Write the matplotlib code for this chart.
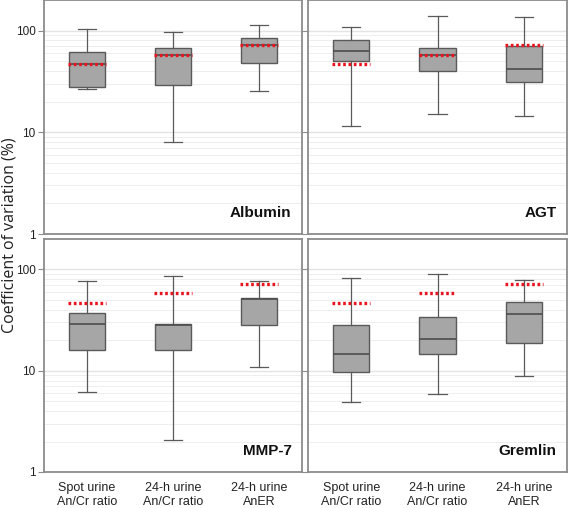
import matplotlib
matplotlib.use("Agg")
import matplotlib.pyplot as plt
import numpy as np
from matplotlib.ticker import LogLocator, NullFormatter, FixedLocator, FixedFormatter

plt.rcParams['font.family'] = ['Liberation Sans', 'DejaVu Sans']

methods = ["Spot urine\nAn/Cr ratio", "24-h urine\nAn/Cr ratio", "24-h urine\nAnER"]
markers = ["Albumin", "AGT", "MMP-7", "Gremlin"]

# per marker: [whislo, q1, median, q3, whishi] for each method
albumin = [[26.6, 28, 47, 61, 103], [8.05, 29, 58, 67.6, 98], [25.2, 48, 72, 85, 113]]
agt = [[11.5, 49.7, 63.7, 81, 108], [15, 40, 57, 66.7, 139], [14.5, 30.9, 41.8, 71, 135]]
mmp7 = [[6.15, 16.1, 29.1, 37.4, 77], [2.05, 16.1, 28.5, 28.9, 86], [10.8, 28.5, 51, 52.5, 76.7]]
gremlin = [[4.87, 9.8, 14.7, 28.4, 82], [5.9, 14.7, 20.8, 34.3, 90], [8.9, 18.6, 36.5, 47.6, 79]]
# red dotted reference values per method
ref_cv = [47, 58, 72]

data = [albumin, agt, mmp7, gremlin]

fig = plt.figure(figsize=(5.68, 5.08), dpi=100)
W, H = 568, 508
boxes_px = [(44, 0, 302, 234), (308, 0, 567, 234), (44, 239, 302, 472), (308, 239, 567, 472)]

frame_col = "#8c8c8c"
for i, (x0, y0, x1, y1) in enumerate(boxes_px):
    ax = fig.add_axes([x0 / W, 1 - y1 / H, (x1 - x0) / W, (y1 - y0) / H])
    ax.set_yscale("log")
    ax.set_ylim(1, 200)
    ax.set_xlim(0.5, 3.5)
    stats = []
    for j, v in enumerate(data[i]):
        stats.append(dict(whislo=v[0], q1=v[1], med=v[2], q3=v[3], whishi=v[4], label=""))
    ax.bxp(stats, positions=[1, 2, 3], widths=0.42, showfliers=False, patch_artist=True,
           boxprops=dict(facecolor="#a6a6a6", edgecolor="#5a5a5a", linewidth=1.0),
           medianprops=dict(color="#4d4d4d", linewidth=1.2),
           whiskerprops=dict(color="#5a5a5a", linewidth=0.9),
           capprops=dict(color="#5a5a5a", linewidth=0.9), capwidths=0.21, zorder=3)
    for j, r in enumerate(ref_cv):
        ax.plot([j + 1 - 0.22, j + 1 + 0.22], [r, r], color="#e8141e", linewidth=2.4,
                linestyle=(0, (0.8, 0.8)), zorder=5, solid_capstyle="butt")
    ax.yaxis.set_major_locator(FixedLocator([1, 10, 100]))
    ax.yaxis.set_minor_locator(LogLocator(base=10, subs=np.arange(2, 10)))
    ax.yaxis.set_minor_formatter(NullFormatter())
    ax.grid(True, which="major", axis="y", color="#e4e4e4", linewidth=1.0, zorder=0)
    ax.grid(True, which="minor", axis="y", color="#eeeeee", linewidth=0.7, zorder=0)
    ax.set_axisbelow(True)
    ax.tick_params(axis="y", which="minor", length=0)
    ax.tick_params(axis="y", which="major", length=4, color=frame_col, labelsize=8.5,
                   labelcolor="#222222", pad=2)
    if i % 2 == 1:
        ax.set_yticklabels([])
    else:
        ax.yaxis.set_major_formatter(FixedFormatter(["1", "10", "100"]))
    ax.set_xticks([1, 2, 3])
    if i >= 2:
        ax.set_xticklabels(methods, fontsize=9, color="#222222", linespacing=1.2)
        ax.tick_params(axis="x", length=0, pad=7)
    else:
        ax.set_xticklabels([])
        ax.tick_params(axis="x", length=0)
    for s in ax.spines.values():
        s.set_color(frame_col)
        s.set_linewidth(1.3)
    ax.text(0.96, 0.06, markers[i], transform=ax.transAxes, ha="right", va="bottom",
            fontsize=11, fontweight="bold", color="#111111")

fig.text(9.5 / W, 1 - 235 / H, "Coefficient of variation (%)", rotation=90, ha="center",
         va="center", fontsize=11.5, family=["Open Sans", "DejaVu Sans"], color="#222222")

fig.savefig("out.png", dpi=100)
